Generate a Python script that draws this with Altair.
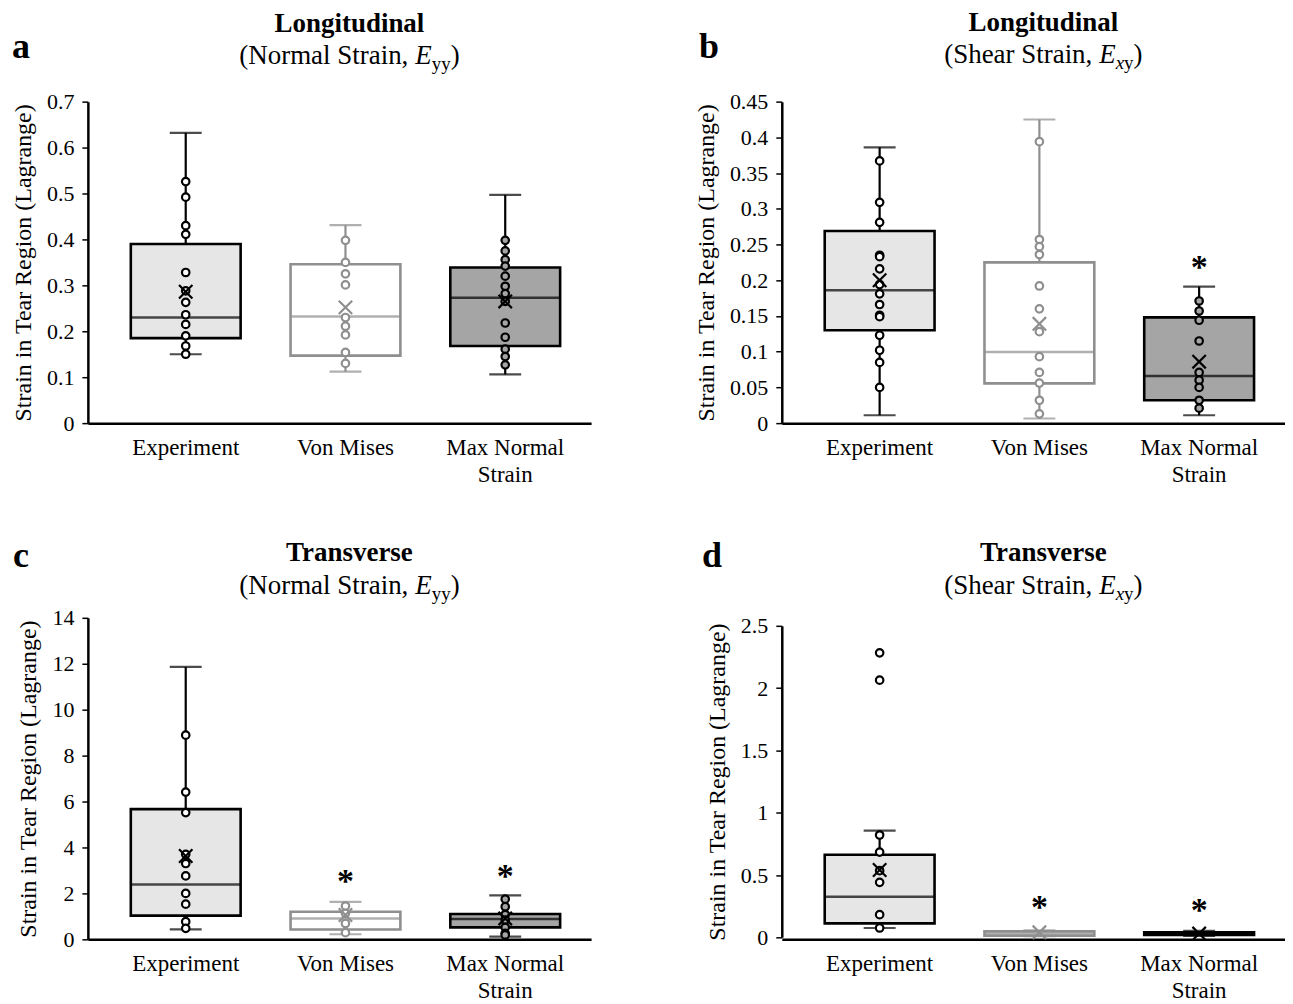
import altair as alt
import pandas as pd

FONT = "Liberation Serif"
CATS = ["Experiment", "Von Mises", "Max Normal Strain"]
BOX_FILL = ["#e6e6e6", "#ffffff", "#a5a5a5"]
LINE_COL = ["#000000", "#8f8f8f", "#000000"]
PT_FILL = ["#ffffff", "#ffffff", "#a5a5a5"]
Y_TITLE = "Strain in Tear Region (Lagrange)"

# ---------- panel a : Longitudinal, normal strain ----------
a_min = [0.150, 0.112, 0.106]
a_q1 = [0.185, 0.147, 0.168]
a_med = [0.230, 0.232, 0.273]
a_q3 = [0.390, 0.346, 0.339]
a_max = [0.632, 0.431, 0.497]
a_mean = [0.286, 0.252, 0.265]
a_pts_exp = [0.526, 0.492, 0.430, 0.411, 0.328, 0.288, 0.263, 0.236, 0.215, 0.190, 0.168, 0.150]
a_pts_vm = [0.398, 0.350, 0.325, 0.301, 0.230, 0.211, 0.192, 0.154, 0.130]
a_pts_mn = [0.398, 0.375, 0.356, 0.342, 0.320, 0.298, 0.282, 0.265, 0.218, 0.187, 0.161, 0.145, 0.127]
a_star_cats = []
a_star_vals = []
a_ticks = [0, 0.1, 0.2, 0.3, 0.4, 0.5, 0.6, 0.7]

# ---------- panel b : Longitudinal, shear strain ----------
b_min = [0.011, 0.0065, 0.011]
b_q1 = [0.130, 0.0556, 0.032]
b_med = [0.186, 0.0995, 0.066]
b_q3 = [0.269, 0.225, 0.148]
b_max = [0.386, 0.425, 0.191]
b_mean = [0.200, 0.139, 0.086]
b_pts_exp = [0.367, 0.309, 0.281, 0.235, 0.233, 0.216, 0.194, 0.181, 0.166, 0.151, 0.149, 0.123, 0.102, 0.085, 0.050]
b_pts_vm = [0.394, 0.257, 0.247, 0.236, 0.192, 0.160, 0.128, 0.093, 0.071, 0.056, 0.032, 0.013]
b_pts_mn = [0.171, 0.157, 0.144, 0.115, 0.071, 0.060, 0.050, 0.032, 0.021]
b_star_cats = ["Max Normal Strain"]
b_star_vals = [0.227]
b_ticks = [0, 0.05, 0.1, 0.15, 0.2, 0.25, 0.3, 0.35, 0.4, 0.45]

# ---------- panel c : Transverse, normal strain ----------
c_min = [0.43, 0.22, 0.12]
c_q1 = [1.03, 0.43, 0.52]
c_med = [2.39, 0.91, 0.88]
c_q3 = [5.67, 1.20, 1.10]
c_max = [11.86, 1.63, 1.91]
c_mean = [3.63, 1.06, 0.91]
c_pts_exp = [8.89, 6.41, 5.52, 3.70, 3.30, 2.76, 2.00, 1.53, 0.77, 0.48]
c_pts_vm = [1.45, 1.13, 0.69, 0.29]
c_pts_mn = [1.75, 1.42, 1.08, 0.84, 0.52, 0.26, 0.19]
c_star_cats = ["Von Mises", "Max Normal Strain"]
c_star_vals = [2.79, 3.00]
c_ticks = [0, 2, 4, 6, 8, 10, 12, 14]

# ---------- panel d : Transverse, shear strain ----------
d_min = [0.075, 0.010, 0.012]
d_q1 = [0.112, 0.014, 0.020]
d_med = [0.326, 0.030, 0.030]
d_q3 = [0.663, 0.048, 0.040]
d_max = [0.856, 0.055, 0.052]
d_mean = [0.540, 0.040, 0.030]
d_pts_exp = [2.283, 2.064, 0.821, 0.684, 0.535, 0.441, 0.182, 0.075]
d_pts_vm = []
d_pts_mn = []
d_star_cats = ["Von Mises", "Max Normal Strain"]
d_star_vals = [0.294, 0.267]
d_ticks = [0, 0.5, 1, 1.5, 2, 2.5]

# approximate glyph widths (Times metrics) for laying out the mixed-style subtitle
W_REG = {'(': .333, ')': .333, 'N': .722, 'o': .5, 'r': .333, 'm': .778, 'a': .444,
         'l': .278, ' ': .25, 'S': .556, 't': .278, 'i': .278, 'n': .5, ',': .25,
         'h': .5, 'e': .444, 'y': .5, 'x': .5}
W_IT = {'E': .611, 'x': .444, 'y': .444}

TITLE_SIZE = 27
SUB_SIZE = 27
SUBSCRIPT = 19
W = 504
H = 322
CX = 262
XPATH = "M-1,-1L1,1M-1,1L1,-1"


def text_width(s, size, italic):
    tab = W_IT if italic else W_REG
    return sum(tab.get(ch, W_REG.get(ch, 0.5)) for ch in s) * size


def one(text):
    return pd.DataFrame({"t": [text]})


def header(letter, title, pieces, title_y, sub_y, letter_x, letter_y):
    layers = [
        alt.Chart(one(letter)).mark_text(fontSize=36, fontWeight="bold", align="left",
                                         baseline="alphabetic", font=FONT, color="black")
        .encode(x=alt.value(letter_x), y=alt.value(letter_y), text="t:N"),
        alt.Chart(one(title)).mark_text(fontSize=TITLE_SIZE, fontWeight="bold", align="center",
                                        baseline="alphabetic", font=FONT, color="black")
        .encode(x=alt.value(CX), y=alt.value(title_y), text="t:N"),
    ]
    total = sum(text_width(t, s, it) for t, it, s, dy in pieces)
    x = CX - total / 2
    for t, it, s, dy in pieces:
        layers.append(
            alt.Chart(one(t)).mark_text(fontSize=s, fontStyle="italic" if it else "normal",
                                        align="left", baseline="alphabetic", font=FONT, color="black")
            .encode(x=alt.value(x), y=alt.value(sub_y + dy), text="t:N")
        )
        x += text_width(t, s, it)
    return layers


def panel(mins, q1, med, q3, maxs, mean, pts, star_cats, star_vals, ticks, domain_max,
          hdr, yrange=None):
    summ = pd.DataFrame({"cat": CATS, "lo": mins, "q1": q1, "med": med, "q3": q3,
                         "hi": maxs, "mean": mean})
    rows = []
    for c, vals in zip(CATS, pts):
        rows += [{"cat": c, "v": v} for v in vals]
    pdf = pd.DataFrame(rows)

    sc = dict(domain=[0, domain_max], nice=False, zero=True)
    if yrange is not None:
        sc["range"] = yrange
    yscale = alt.Scale(**sc)
    yaxis = alt.Axis(values=ticks, format="~g", title=Y_TITLE, titleFontSize=24,
                     titleFontWeight="normal", titlePadding=11, labelFontSize=22,
                     labelPadding=8, tickSize=6, tickWidth=1.5, domainWidth=2.5,
                     grid=False)
    xscale = alt.Scale(domain=CATS, paddingInner=0, paddingOuter=0.075, align=0.75)
    xaxis = alt.Axis(title=None, labelAngle=0, ticks=False, labelFontSize=23,
                     labelPadding=13, domainWidth=2.5, labelLineHeight=27,
                     labelExpr="datum.value == 'Max Normal Strain' ? ['Max Normal', 'Strain'] : datum.label")
    X = alt.X("cat:N", sort=CATS, scale=xscale, axis=xaxis)
    col = alt.Color("cat:N", scale=alt.Scale(domain=CATS, range=LINE_COL), legend=None)
    strk = alt.Stroke("cat:N", scale=alt.Scale(domain=CATS, range=LINE_COL), legend=None)

    def Y(f):
        return alt.Y(f"{f}:Q", scale=yscale, axis=yaxis)

    base = alt.Chart(summ)
    whisk = base.mark_rule(strokeWidth=2.2).encode(x=X, y=Y("lo"), y2="hi", color=col)
    box = base.mark_bar(size=110, strokeWidth=2.6).encode(
        x=X, y=Y("q1"), y2="q3",
        fill=alt.Fill("cat:N", scale=alt.Scale(domain=CATS, range=BOX_FILL), legend=None),
        stroke=strk)
    med_l = base.mark_tick(size=110, thickness=2.5).encode(x=X, y=Y("med"), color=col)
    cap_lo = base.mark_tick(size=32, thickness=2.2).encode(x=X, y=Y("lo"), color=col)
    cap_hi = base.mark_tick(size=32, thickness=2.2).encode(x=X, y=Y("hi"), color=col)
    layers = [whisk, box, med_l, cap_lo, cap_hi]
    if len(pdf):
        dots = alt.Chart(pdf).mark_point(filled=True, size=56, strokeWidth=2.2, opacity=1).encode(
            x=X, y=Y("v"),
            fill=alt.Fill("cat:N", scale=alt.Scale(domain=CATS, range=PT_FILL), legend=None),
            stroke=strk)
        layers.append(dots)
    xm = base.mark_point(shape=XPATH, filled=False, size=180, strokeWidth=2.2, opacity=1).encode(
        x=X, y=Y("mean"), color=col)
    layers.append(xm)
    if star_cats:
        sdf = pd.DataFrame({"cat": star_cats, "v": star_vals})
        st = alt.Chart(sdf).mark_text(text="*", fontSize=34, fontWeight="bold", font=FONT,
                                      baseline="alphabetic", dy=17, color="black").encode(
            x=X, y=Y("v"))
        layers.append(st)
    layers += hdr
    return alt.layer(*layers).resolve_scale(fill="independent").properties(width=W, height=H)


hdr_a = header("a", "Longitudinal",
               [("(Normal Strain, ", False, SUB_SIZE, 0), ("E", True, SUB_SIZE, 0),
                ("yy", False, SUBSCRIPT, 6), (")", False, SUB_SIZE, 0)],
               -70, -38, -76, -44)
hdr_b = header("b", "Longitudinal",
               [("(Shear Strain, ", False, SUB_SIZE, 0), ("E", True, SUB_SIZE, 0),
                ("x", True, SUBSCRIPT, 6), ("y", False, SUBSCRIPT, 6), (")", False, SUB_SIZE, 0)],
               -71, -39, -83, -44)
hdr_c = header("c", "Transverse",
               [("(Normal Strain, ", False, SUB_SIZE, 0), ("E", True, SUB_SIZE, 0),
                ("yy", False, SUBSCRIPT, 6), (")", False, SUB_SIZE, 0)],
               -57, -24, -75, -51)
hdr_d = header("d", "Transverse",
               [("(Shear Strain, ", False, SUB_SIZE, 0), ("E", True, SUB_SIZE, 0),
                ("x", True, SUBSCRIPT, 6), ("y", False, SUBSCRIPT, 6), (")", False, SUB_SIZE, 0)],
               -57, -24, -80, -51)

pa = panel(a_min, a_q1, a_med, a_q3, a_max, a_mean, [a_pts_exp, a_pts_vm, a_pts_mn],
           a_star_cats, a_star_vals, a_ticks, 0.7, hdr_a)
pb = panel(b_min, b_q1, b_med, b_q3, b_max, b_mean, [b_pts_exp, b_pts_vm, b_pts_mn],
           b_star_cats, b_star_vals, b_ticks, 0.45, hdr_b)
pc = panel(c_min, c_q1, c_med, c_q3, c_max, c_mean, [c_pts_exp, c_pts_vm, c_pts_mn],
           c_star_cats, c_star_vals, c_ticks, 14, hdr_c)
pd_ = panel(d_min, d_q1, d_med, d_q3, d_max, d_mean, [d_pts_exp, d_pts_vm, d_pts_mn],
            d_star_cats, d_star_vals, d_ticks, 2.5, hdr_d, yrange=[320, 8])

chart = alt.concat(pa, pb, pc, pd_, columns=2, bounds="flush",
                   spacing=alt.RowColnumber(column=191, row=195)).properties(
    padding={"left": 3, "top": 0, "right": 0, "bottom": 0}
).configure_view(stroke=None).configure_axis(
    labelFont=FONT, titleFont=FONT, labelColor="black", titleColor="black",
    domainColor="black", tickColor="black", grid=False
).configure_text(font=FONT)

chart.save("out.html", embed_options={"renderer": "svg", "actions": False})
